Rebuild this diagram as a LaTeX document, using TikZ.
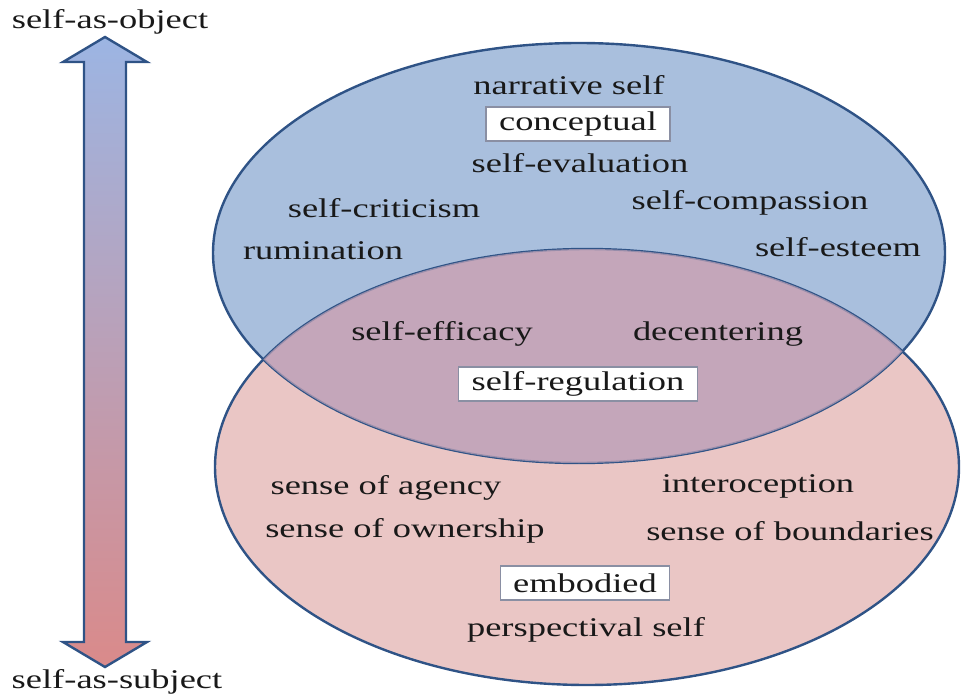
\documentclass[tikz,border=0pt]{standalone}
\usepackage{fontspec}
\setmainfont[FakeStretch=1.35]{Liberation Serif}
\definecolor{edgeblue}{HTML}{2F5386}
\definecolor{topblue}{HTML}{A9BFDD}
\definecolor{botpink}{HTML}{EAC6C5}
\definecolor{midpurple}{HTML}{C4A6BA}
\definecolor{boxedge}{HTML}{8A8FA3}
\definecolor{arrtop}{HTML}{9CB5E3}
\definecolor{arrbot}{HTML}{DA8A8A}
\tikzset{
  lbl/.style={font=\fontsize{27}{31}\selectfont, text=black!90, inner sep=0pt},
  tagbox/.style={lbl, draw=boxedge, line width=1.2pt, fill=white, inner xsep=13pt, minimum height=34pt}
}
\begin{document}
\begin{tikzpicture}[x=1pt,y=-1pt]
\useasboundingbox (0,0) rectangle (961,695);

% the two sets
\fill[botpink] (587,467) ellipse [x radius=372, y radius=218];
\fill[topblue] (579,253) ellipse [x radius=366, y radius=210];
\begin{scope}
\clip (579,253) ellipse [x radius=366, y radius=210];
\fill[midpurple] (587,467) ellipse [x radius=372, y radius=218];
\end{scope}
\draw[edgeblue, line width=2.4pt] (579,253) ellipse [x radius=366, y radius=210];
\draw[edgeblue, line width=2.4pt] (587,467) ellipse [x radius=372, y radius=218];
\begin{scope}
\clip (579,253) ellipse [x radius=366, y radius=210];
\clip (587,467) ellipse [x radius=372, y radius=218];
\fill[midpurple, opacity=.7] (200,200) rectangle (961,500);
\end{scope}

% arrow on the left
\begin{scope}
\coordinate (tip1) at (105,37);
\coordinate (tip2) at (105,667);
\draw[edgeblue, line width=2.4pt, line join=miter, top color=arrtop, bottom color=arrbot]
  (tip1) -- (147,62) -- (126,62) -- (126,642) -- (147,642) -- (tip2)
  -- (63,642) -- (84,642) -- (84,62) -- (63,62) -- cycle;
\end{scope}

\node[lbl] (object) at (110,22) {self-as-object};
\node[lbl] (subject) at (117,682) {self-as-subject};

% conceptual part
\node[lbl] (narrative) at (569,85) {narrative self};
\node[tagbox] (conceptual) at (578,124) {conceptual};
\node[lbl] (evaluation) at (580,163) {self-evaluation};
\node[lbl] (criticism) at (384,208) {self-criticism};
\node[lbl] (compassion) at (750,203) {self-compassion};
\node[lbl] (rumination) at (323,251) {rumination};
\node[lbl] (esteem) at (838,247) {self-esteem};

% overlap
\node[lbl] (efficacy) at (442,334) {self-efficacy};
\node[lbl] (decentering) at (718,334) {decentering};
\node[tagbox] (regulation) at (578,384) {self-regulation};

% embodied part
\node[lbl] (agency) at (386,488) {sense of agency};
\node[lbl] (interoception) at (758,486) {interoception};
\node[lbl] (ownership) at (405,531) {sense of ownership};
\node[lbl] (boundaries) at (790,531) {sense of boundaries};
\node[tagbox] (embodied) at (585,583) {embodied};
\node[lbl] (perspectival) at (586,630) {perspectival self};

\end{tikzpicture}
\end{document}
